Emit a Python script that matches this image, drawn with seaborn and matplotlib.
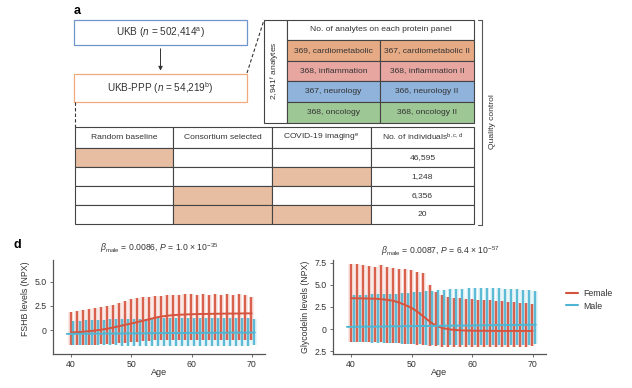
import matplotlib
matplotlib.use("Agg")
import matplotlib.pyplot as plt
from matplotlib.patches import Rectangle
from matplotlib.lines import Line2D
import pandas as pd
import seaborn as sns

# ---------------- data ----------------
cohort_labels = [r"UKB ($n$ = 502,414$^{\rm a}$)", r"UKB-PPP ($n$ = 54,219$^{\rm b}$)"]
panel_header = "No. of analytes on each protein panel"
panel_left = ["369, cardiometabolic", "368, inflammation", "367, neurology", "368, oncology"]
panel_right = ["367, cardiometabolic II", "368, inflammation II", "366, neurology II", "368, oncology II"]
total_analytes = r"2,941$^{\rm f}$ analytes"
sel_headers = ["Random baseline", "Consortium selected", r"COVID-19 imaging$^{\rm e}$",
               r"No. of individuals$^{\rm b,c,d}$"]
sel_matrix = [[1, 0, 0], [0, 0, 1], [0, 1, 0], [0, 1, 1]]
sel_counts = ["46,595", "1,248", "6,356", "20"]

ages = [40, 41, 42, 43, 44, 45, 46, 47, 48, 49, 50, 51, 52, 53, 54, 55,
        56, 57, 58, 59, 60, 61, 62, 63, 64, 65, 66, 67, 68, 69, 70]

# FSHB
fshb_f_hi = [1.9, 2.0, 2.1, 2.2, 2.3, 2.4, 2.5, 2.6, 2.8, 3.0, 3.2, 3.3, 3.4, 3.4, 3.5, 3.5,
             3.6, 3.6, 3.6, 3.7, 3.7, 3.6, 3.7, 3.6, 3.7, 3.6, 3.7, 3.6, 3.7, 3.6, 3.4]
fshb_f_lo = [-1.5, -1.5, -1.5, -1.5, -1.5, -1.4, -1.4, -1.4, -1.3, -1.3, -1.2, -1.2, -1.1, -1.1, -1.0, -1.0,
             -1.0, -1.0, -1.0, -1.0, -1.0, -1.0, -1.0, -1.0, -1.0, -1.0, -1.0, -1.0, -1.0, -1.0, -1.0]
fshb_m_hi = [0.9, 0.9, 1.0, 1.0, 1.0, 1.0, 1.1, 1.1, 1.1, 1.1, 1.1, 1.1, 1.1, 1.2, 1.2, 1.2,
             1.2, 1.2, 1.2, 1.2, 1.2, 1.2, 1.2, 1.2, 1.2, 1.2, 1.2, 1.2, 1.2, 1.2, 1.1]
fshb_m_lo = [-1.6, -1.6, -1.6, -1.6, -1.6, -1.6, -1.6, -1.6, -1.7, -1.7, -1.7, -1.7, -1.7, -1.7, -1.7, -1.7,
             -1.7, -1.7, -1.7, -1.7, -1.7, -1.7, -1.7, -1.7, -1.7, -1.7, -1.7, -1.7, -1.7, -1.7, -1.6]
fshb_f_trend = [-0.25, -0.22, -0.18, -0.12, -0.05, 0.03, 0.13, 0.26, 0.40, 0.54, 0.67, 0.82, 0.97, 1.12, 1.28, 1.40,
                1.48, 1.54, 1.58, 1.61, 1.63, 1.65, 1.66, 1.67, 1.68, 1.69, 1.70, 1.70, 1.71, 1.72, 1.72]
fshb_m_trend_age = [39.3, 45, 50, 55, 60, 65, 70.5]
fshb_m_trend = [-0.40, -0.37, -0.35, -0.32, -0.30, -0.28, -0.26]

# Glycodelin
gly_f_hi = [7.4, 7.3, 7.2, 7.1, 7.0, 7.2, 7.0, 6.9, 6.8, 6.8, 6.7, 6.5, 6.3, 5.0, 4.2, 3.8,
            3.6, 3.5, 3.5, 3.4, 3.4, 3.3, 3.3, 3.3, 3.2, 3.2, 3.1, 3.1, 3.0, 3.0, 2.8]
gly_f_lo = [-1.4, -1.4, -1.5, -1.5, -1.5, -1.5, -1.6, -1.6, -1.6, -1.7, -1.7, -1.8, -1.8, -1.9, -1.9, -2.0,
            -2.0, -2.0, -2.0, -2.0, -2.0, -2.0, -2.0, -2.0, -2.0, -2.0, -2.0, -2.0, -2.0, -2.0, -1.9]
gly_m_hi = [3.8, 3.9, 3.9, 4.0, 4.0, 4.0, 4.0, 4.0, 4.1, 4.1, 4.2, 4.2, 4.3, 4.3, 4.4, 4.4,
            4.5, 4.5, 4.5, 4.6, 4.6, 4.6, 4.6, 4.6, 4.6, 4.5, 4.5, 4.5, 4.4, 4.4, 4.3]
gly_m_lo = [-1.5, -1.5, -1.5, -1.6, -1.6, -1.6, -1.6, -1.6, -1.7, -1.7, -1.7, -1.7, -1.8, -1.8, -1.8, -1.8,
            -1.8, -1.8, -1.8, -1.8, -1.8, -1.8, -1.8, -1.8, -1.8, -1.8, -1.8, -1.8, -1.8, -1.8, -1.7]
gly_f_trend = [3.49, 3.48, 3.47, 3.45, 3.43, 3.38, 3.30, 3.20, 2.98, 2.70, 2.40, 1.95, 1.40, 0.85, 0.40, 0.15,
               0.00, -0.08, -0.13, -0.16, -0.17, -0.18, -0.18, -0.19, -0.19, -0.20, -0.20, -0.20, -0.20, -0.20, -0.20]
gly_m_trend_age = [39.3, 45, 50, 55, 60, 65, 70.5]
gly_m_trend = [0.26, 0.30, 0.34, 0.38, 0.42, 0.46, 0.50]

titles = [r"$\beta_{\rm male}$ = 0.0086, $P$ = 1.0 × 10$^{-35}$",
          r"$\beta_{\rm male}$ = 0.0087, $P$ = 6.4 × 10$^{-57}$"]
ylabels = ["FSHB levels (NPX)", "Glycodelin levels (NPX)"]
sex_labels = ["Female", "Male"]

# ---------------- style ----------------
sns.set_theme(style="ticks")
plt.rcParams["font.family"] = ["Liberation Sans", "DejaVu Sans"]
plt.rcParams["mathtext.fontset"] = "custom"
plt.rcParams["mathtext.rm"] = "Liberation Sans"
plt.rcParams["mathtext.it"] = "Liberation Sans:italic"
plt.rcParams["mathtext.bf"] = "Liberation Sans:bold"

RED = "#D6533E"
BLUE = "#4FB5D3"
TXT = "#333333"
LINE = "#444444"
TFS = 6.1

W, H = 632, 388
fig = plt.figure(figsize=(W / 100, H / 100), dpi=100)

# ---------------- panel a (pixel coordinates) ----------------
axa = fig.add_axes([0, 0, 1, 1])
axa.set_xlim(0, W)
axa.set_ylim(H, 0)
axa.axis("off")
axa.patch.set_visible(False)


def box(x0, y0, x1, y1, fc="white", ec=LINE, lw=0.7, z=1):
    axa.add_patch(Rectangle((x0, y0), x1 - x0, y1 - y0, facecolor=fc, edgecolor=ec, lw=lw, zorder=z))


axa.text(74, 11, "a", fontsize=9, fontweight="bold", ha="left", va="center", color="black")
axa.text(13, 245, "d", fontsize=9, fontweight="bold", ha="left", va="center", color="black")

box(74, 20, 247, 45, ec="#7094CC", lw=0.9)
axa.text(160.5, 33, cohort_labels[0], fontsize=7.2, ha="center", va="center", color=TXT)
box(74, 74, 247, 102, ec="#F0AA7E", lw=0.9)
axa.text(160.5, 88.5, cohort_labels[1], fontsize=7.2, ha="center", va="center", color=TXT)
axa.annotate("", xy=(160.5, 73.5), xytext=(160.5, 46),
             arrowprops=dict(arrowstyle="-|>", color="#333333", lw=0.7, mutation_scale=6))
axa.plot([247, 264], [73, 20], ls=(0, (3, 2)), color="#333333", lw=0.8)
axa.plot([75, 75], [102, 127], ls=(0, (3, 2)), color="#333333", lw=0.8)

# protein panel table
panel_colors = ["#E6AA84", "#E8A6A1", "#8FB3DB", "#9DC794"]
row_y = [40, 60.5, 81, 102, 123]
box(264, 19.5, 287, 123, lw=0.8)
axa.text(275.5, 71, total_analytes, fontsize=TFS, rotation=90, ha="center", va="center", color=TXT)
box(287, 19.5, 474, 40, lw=0.8)
axa.text(380.5, 29.8, panel_header, fontsize=TFS, ha="center", va="center", color=TXT)
for i in range(4):
    box(287, row_y[i], 380, row_y[i + 1], fc=panel_colors[i], lw=0.8)
    box(380, row_y[i], 474, row_y[i + 1], fc=panel_colors[i], lw=0.8)
    yc = (row_y[i] + row_y[i + 1]) / 2
    axa.text(333.5, yc, panel_left[i], fontsize=TFS, ha="center", va="center", color=TXT)
    axa.text(427, yc, panel_right[i], fontsize=TFS, ha="center", va="center", color=TXT)

# quality-control bracket
axa.plot([478, 482, 482, 478], [20, 20, 225, 225], color="#555555", lw=0.8)
axa.text(492, 122, "Quality control", fontsize=TFS, rotation=90, ha="center", va="center", color=TXT)

# selection table
col_x = [75, 173, 272, 371, 474]
tab_y = [127, 148, 167, 186, 205, 224]
for j in range(4):
    box(col_x[j], tab_y[0], col_x[j + 1], tab_y[1], lw=0.8)
    axa.text((col_x[j] + col_x[j + 1]) / 2, (tab_y[0] + tab_y[1]) / 2, sel_headers[j],
             fontsize=TFS, ha="center", va="center", color=TXT)
for i in range(4):
    for j in range(3):
        fc = "#E8BEA2" if sel_matrix[i][j] else "white"
        box(col_x[j], tab_y[i + 1], col_x[j + 1], tab_y[i + 2], fc=fc, lw=0.8)
    box(col_x[3], tab_y[i + 1], col_x[4], tab_y[i + 2], lw=0.8)
    axa.text((col_x[3] + col_x[4]) / 2, (tab_y[i + 1] + tab_y[i + 2]) / 2, sel_counts[i],
             fontsize=TFS, ha="center", va="center", color=TXT)

# ---------------- panel d ----------------
bottom = 1 - 354 / H
height = 94 / H
ax1 = fig.add_axes([53 / W, bottom, 212 / W, height])
ax2 = fig.add_axes([333 / W, bottom, 213 / W, height])

specs = [
    (ax1, fshb_f_lo, fshb_f_hi, fshb_m_lo, fshb_m_hi, fshb_f_trend, fshb_m_trend_age, fshb_m_trend,
     (-2.48, 7.24), [0, 2.5, 5.0], ["0", "2.5", "5.0"], 0.587, 1.128),
    (ax2, gly_f_lo, gly_f_hi, gly_m_lo, gly_m_hi, gly_f_trend, gly_m_trend_age, gly_m_trend,
     (-2.8, 7.8), [-2.5, 0, 2.5, 5.0, 7.5], ["2.5", "0", "2.5", "5.0", "7.5"], 0.5, 1.096),
]

for k, (ax, flo, fhi, mlo, mhi, ftr, mta, mtr, ylim, yt, ytl, ylab_y, tit_y) in enumerate(specs):
    fx = [a - 0.05 for a in ages]
    mx = [a + 0.4 for a in ages]
    # pale clouds
    ax.bar(fx, [h - l for h, l in zip(fhi, flo)], bottom=flo, width=0.9, color=RED, alpha=0.12, lw=0, zorder=1)
    ax.bar(mx, [h - l for h, l in zip(mhi, mlo)], bottom=mlo, width=0.9, color=BLUE, alpha=0.12, lw=0, zorder=1)
    # dense strips
    ax.vlines(fx, flo, fhi, color=RED, lw=1.7, alpha=0.9, zorder=2)
    ax.vlines(mx, mlo, mhi, color=BLUE, lw=1.7, alpha=0.9, zorder=3)
    # trend lines
    sns.lineplot(x=ages, y=ftr, color=RED, lw=1.4, ax=ax, zorder=5)
    sns.lineplot(x=mta, y=mtr, color=BLUE, lw=1.4, ax=ax, zorder=6)

    ax.set_xlim(37.0, 72.2)
    ax.set_ylim(*ylim)
    ax.set_xticks([40, 50, 60, 70])
    ax.set_xticklabels(["40", "50", "60", "70"])
    ax.set_yticks(yt)
    ax.set_yticklabels(ytl)
    ax.tick_params(labelsize=6.3, length=2.5, width=0.6, colors="#555555", labelcolor="#333333", pad=2)
    for s in ["left", "bottom"]:
        ax.spines[s].set_linewidth(0.9)
        ax.spines[s].set_color("#555555")
    sns.despine(ax=ax)
    ax.set_xlabel("Age", fontsize=6.5, color=TXT)
    ax.xaxis.set_label_coords(0.5, -0.15)
    ax.set_ylabel(ylabels[k], fontsize=6.3, color=TXT)
    ax.yaxis.set_label_coords(-0.11, ylab_y)
    ax.text(0.503, tit_y, titles[k], transform=ax.transAxes, fontsize=6.2, ha="center", va="center", color=TXT)
    if ax.get_legend() is not None:
        ax.get_legend().remove()

handles = [Line2D([0], [0], color=RED, lw=1.5), Line2D([0], [0], color=BLUE, lw=1.5)]
fig.legend(handles, sex_labels, loc="center left", bbox_to_anchor=(558 / W, 1 - 300 / H),
           frameon=False, fontsize=6.3, handlelength=1.4, handletextpad=0.6, labelspacing=0.35,
           labelcolor=TXT)

fig.savefig("out.png", dpi=100)
